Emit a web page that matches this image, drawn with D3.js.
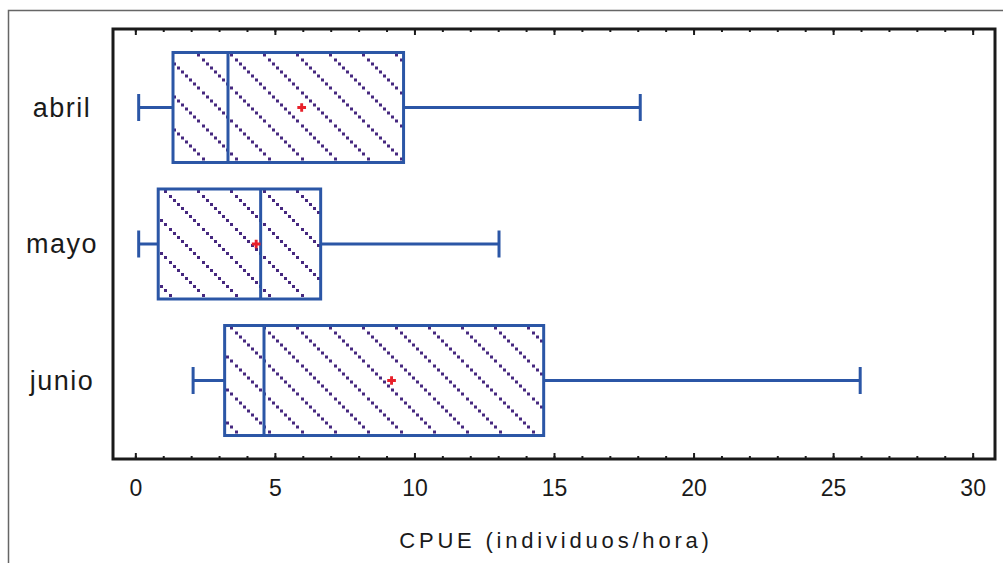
<!DOCTYPE html>
<html>
<head>
<meta charset="utf-8">
<script src="https://cdn.jsdelivr.net/npm/d3@7"></script>
<style>
  body { margin: 0; background: #fff; }
  svg { display: block; font-family: "Liberation Sans", Arial, sans-serif; }
</style>
</head>
<body>
<div id="chart"></div>
<script>
// CPUE por mes (box-and-whisker)
const categories = ["abril", "mayo", "junio"];
const whiskerLow = [0.12, 0.12, 2.07];
const q1 = [1.35, 0.82, 3.2];
const median = [3.32, 4.49, 4.61];
const q3 = [9.61, 6.64, 14.63];
const whiskerHigh = [18.09, 13.03, 25.97];
const means = [5.96, 4.33, 9.18];
const majorTicks = [0, 5, 10, 15, 20, 25, 30];
const minorTicks = d3.range(0, 31);
const xLabel = "CPUE (individuos/hora)";

const W = 1003, H = 563;
const m = { top: 29, right: 8, bottom: 104, left: 113 };
const pw = W - m.left - m.right, ph = H - m.top - m.bottom;

const boxColor = "#2b56a6";
const hatchColor = "#46287f";

const svg = d3.select("#chart").append("svg")
  .attr("width", W).attr("height", H);

// outer frame
svg.append("rect")
  .attr("x", 8.5).attr("y", 10.5)
  .attr("width", W).attr("height", H)
  .attr("fill", "none").attr("stroke", "#666").attr("stroke-width", 1.5);

// hatch pattern: dotted diagonals
const defs = svg.append("defs");
const pat = defs.append("pattern")
  .attr("id", "hatch")
  .attr("patternUnits", "userSpaceOnUse")
  .attr("width", 33).attr("height", 33)
  .attr("patternTransform", "translate(6,0)");
pat.selectAll("rect")
  .data(d3.range(8))
  .enter()
  .append("rect")
  .attr("x", (d) => Math.round(d * 33 / 8))
  .attr("y", (d) => Math.round(d * 33 / 8))
  .attr("width", 3).attr("height", 3)
  .attr("fill", hatchColor);

const g = svg.append("g").attr("transform", `translate(${m.left},${m.top})`);

const x = d3.scaleLinear().domain([-0.8, 30.8]).range([0, pw]);
const y = d3.scalePoint().domain(categories).range([0, ph]).padding(0.575);
const boxH = 110;
const capH = 27;

// ticks, bottom + top, pointing inward
function tickAxis(axisFn, size, labels) {
  return axisFn(x)
    .tickValues(labels ? majorTicks : minorTicks)
    .tickSize(size)
    .tickPadding(16)
    .tickFormat(labels ? d3.format("d") : "");
}

const bottomAxis = g.append("g").attr("transform", `translate(0,${ph})`);
bottomAxis.call(tickAxis(d3.axisBottom, -3, false));
bottomAxis.append("g").call(tickAxis(d3.axisBottom, -6, true));
const topAxis = g.append("g");
topAxis.call(tickAxis(d3.axisTop, -3, false));
topAxis.append("g").call(tickAxis(d3.axisTop, -6, true)).selectAll("text").remove();

svg.selectAll(".domain").remove();
svg.selectAll(".tick line").attr("stroke", "#1a1a1a").attr("stroke-width", 2);
bottomAxis.selectAll(".tick text")
  .attr("font-size", 23)
  .attr("fill", "#1a1a1a")
  .attr("dy", "0.9em");

// plot frame
g.append("rect")
  .attr("width", pw).attr("height", ph)
  .attr("fill", "none").attr("stroke", "#1a1a1a").attr("stroke-width", 3);

// boxes
const rows = categories.map((c, i) => ({
  cat: c, lo: whiskerLow[i], q1: q1[i], med: median[i],
  q3: q3[i], hi: whiskerHigh[i], mean: means[i]
}));

const box = g.selectAll(".box").data(rows).enter().append("g")
  .attr("class", "box")
  .attr("transform", (d) => `translate(0,${y(d.cat)})`);

box.append("rect")
  .attr("x", (d) => x(d.q1))
  .attr("y", -boxH / 2)
  .attr("width", (d) => x(d.q3) - x(d.q1))
  .attr("height", boxH)
  .attr("fill", "url(#hatch)")
  .attr("stroke", boxColor)
  .attr("stroke-width", 3);

box.append("line")
  .attr("x1", (d) => x(d.med)).attr("x2", (d) => x(d.med))
  .attr("y1", -boxH / 2).attr("y2", boxH / 2)
  .attr("stroke", boxColor).attr("stroke-width", 3);

// whiskers
box.append("line")
  .attr("x1", (d) => x(d.lo)).attr("x2", (d) => x(d.q1))
  .attr("stroke", boxColor).attr("stroke-width", 3);
box.append("line")
  .attr("x1", (d) => x(d.q3)).attr("x2", (d) => x(d.hi))
  .attr("stroke", boxColor).attr("stroke-width", 3);
box.selectAll(".cap")
  .data((d) => [d.lo, d.hi])
  .enter()
  .append("line")
  .attr("class", "cap")
  .attr("x1", (v) => x(v)).attr("x2", (v) => x(v))
  .attr("y1", -capH / 2).attr("y2", capH / 2)
  .attr("stroke", boxColor).attr("stroke-width", 3);

// mean marker
box.append("path")
  .attr("d", d3.symbol(d3.symbolCross, 42))
  .attr("transform", (d) => `translate(${x(d.mean)},0)`)
  .attr("fill", "#e8202a");

// category labels
g.selectAll(".cat").data(categories).enter().append("text")
  .attr("x", -51)
  .attr("y", (d) => y(d))
  .attr("dy", "0.35em")
  .attr("text-anchor", "middle")
  .attr("font-size", 27)
  .attr("letter-spacing", 1.5)
  .attr("fill", "#1a1a1a")
  .text((d) => d);

// x label
svg.append("text")
  .attr("x", m.left + x(15) + 2)
  .attr("y", 548)
  .attr("text-anchor", "middle")
  .attr("font-size", 22)
  .attr("letter-spacing", 3.8)
  .attr("fill", "#1a1a1a")
  .text(xLabel);
</script>
</body>
</html>
